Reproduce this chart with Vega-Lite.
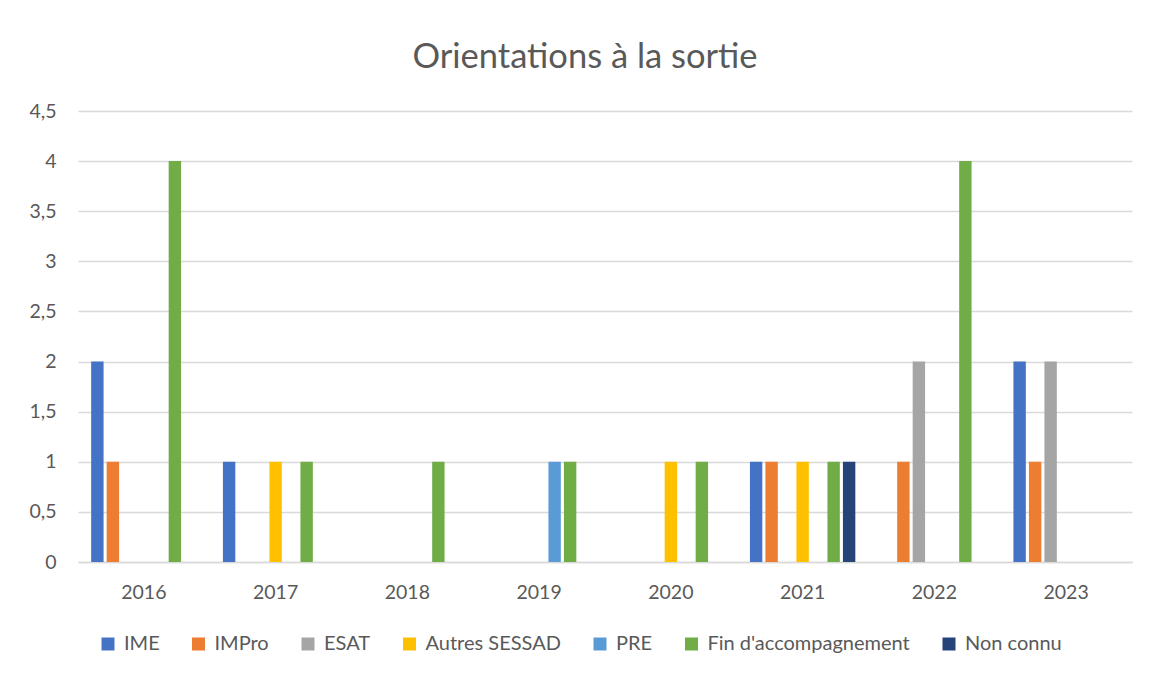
{
  "$schema": "https://vega.github.io/schema/vega-lite/v6.json",
  "autosize": "none",
  "width": 1054,
  "height": 451,
  "padding": {"left": 78, "top": 111, "right": 17, "bottom": 114},
  "background": "white",
  "title": {
    "text": "Orientations à la sortie",
    "fontSize": 34.5,
    "font": "Lato",
    "fontWeight": "normal",
    "color": "#595959",
    "offset": 26,
    "dx": -20
  },
  "data": {
    "values": [
      {"year": "2016", "orientation": "IME", "value": 2},
      {"year": "2016", "orientation": "IMPro", "value": 1},
      {"year": "2016", "orientation": "Fin d'accompagnement", "value": 4},
      {"year": "2017", "orientation": "IME", "value": 1},
      {"year": "2017", "orientation": "Autres SESSAD", "value": 1},
      {"year": "2017", "orientation": "Fin d'accompagnement", "value": 1},
      {"year": "2018", "orientation": "Fin d'accompagnement", "value": 1},
      {"year": "2019", "orientation": "PRE", "value": 1},
      {"year": "2019", "orientation": "Fin d'accompagnement", "value": 1},
      {"year": "2020", "orientation": "Autres SESSAD", "value": 1},
      {"year": "2020", "orientation": "Fin d'accompagnement", "value": 1},
      {"year": "2021", "orientation": "IME", "value": 1},
      {"year": "2021", "orientation": "IMPro", "value": 1},
      {"year": "2021", "orientation": "Autres SESSAD", "value": 1},
      {"year": "2021", "orientation": "Fin d'accompagnement", "value": 1},
      {"year": "2021", "orientation": "Non connu", "value": 1},
      {"year": "2022", "orientation": "IMPro", "value": 1},
      {"year": "2022", "orientation": "ESAT", "value": 2},
      {"year": "2022", "orientation": "Fin d'accompagnement", "value": 4},
      {"year": "2023", "orientation": "IME", "value": 2},
      {"year": "2023", "orientation": "IMPro", "value": 1},
      {"year": "2023", "orientation": "ESAT", "value": 2}
    ]
  },
  "mark": {"type": "bar"},
  "encoding": {
    "x": {
      "field": "year",
      "type": "nominal",
      "scale": {"domain": ["2016","2017","2018","2019","2020","2021","2022","2023"], "paddingInner": 0.2, "paddingOuter": 0.1},
      "axis": {
        "title": null,
        "labelAngle": 0,
        "ticks": false,
        "domainColor": "#D9D9D9",
        "domainWidth": 1.5,
        "labelFontSize": 19.5,
        "labelFont": "Lato",
        "labelColor": "#595959",
        "labelPadding": 21,
        "grid": false
      }
    },
    "xOffset": {
      "field": "orientation",
      "type": "nominal",
      "scale": {"domain": ["IME","IMPro","ESAT","Autres SESSAD","PRE","Fin d'accompagnement","Non connu"], "paddingInner": 0.2, "paddingOuter": 0}
    },
    "y": {
      "field": "value",
      "type": "quantitative",
      "scale": {"domain": [0, 4.5], "nice": false},
      "axis": {
        "title": null,
        "values": [0,0.5,1,1.5,2,2.5,3,3.5,4,4.5],
        "labelExpr": "replace(toString(datum.value), '.', ',')",
        "domain": false,
        "ticks": false,
        "gridColor": "#D9D9D9",
        "gridWidth": 1.5,
        "labelFontSize": 19.5,
        "labelFont": "Lato",
        "labelColor": "#595959",
        "labelPadding": 22
      }
    },
    "color": {
      "field": "orientation",
      "type": "nominal",
      "scale": {
        "domain": ["IME","IMPro","ESAT","Autres SESSAD","PRE","Fin d'accompagnement","Non connu"],
        "range": ["#4472C4","#ED7D31","#A5A5A5","#FFC000","#5B9BD5","#70AD47","#264478"]
      },
      "legend": {
        "title": null,
        "orient": "none",
        "legendX": 20,
        "legendY": 523,
        "direction": "horizontal",
        "columns": 7,
        "columnPadding": 28.5,
        "symbolType": "square",
        "symbolSize": 169,
        "symbolStrokeWidth": 0,
        "labelFontSize": 20,
        "labelFont": "Lato",
        "labelColor": "#595959",
        "labelOffset": 6,
        "labelLimit": 400
      }
    }
  },
  "config": {
    "view": {"stroke": null}
  }
}
